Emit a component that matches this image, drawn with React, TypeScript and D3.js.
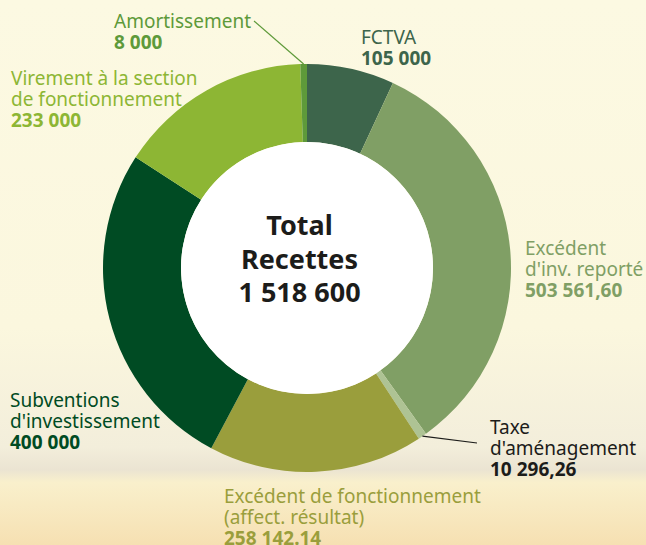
import React from 'react';
import * as d3 from 'd3';

// données (recettes d'investissement)
const categories = [
  'FCTVA',
  "Excédent d'inv. reporté",
  "Taxe d'aménagement",
  'Excédent de fonctionnement (affect. résultat)',
  "Subventions d'investissement",
  'Virement à la section de fonctionnement',
  'Amortissement',
];
const values = [105000, 503561.6, 10296.26, 258142.14, 400000, 233000, 8000];
const valueLabels = ['105 000', '503 561,60', '10 296,26', '258 142.14', '400 000', '233 000', '8 000'];
const labelLines = [
  ['FCTVA'],
  ['Excédent', "d'inv. reporté"],
  ['Taxe', "d'aménagement"],
  ['Excédent de fonctionnement', '(affect. résultat)'],
  ['Subventions', "d'investissement"],
  ['Virement à la section', 'de fonctionnement'],
  ['Amortissement'],
];
const sliceColors = ['#3d654b', '#809f65', '#aec394', '#9a9e3c', '#004b23', '#8db634', '#5e9a3a'];
const textColors = ['#3d654b', '#809f65', '#1c1c1a', '#9a9e3c', '#004b23', '#8db634', '#5e9a3a'];
const totalLines = ['Total', 'Recettes', '1 518 600'];

// mise en page des étiquettes (x, ligne de base de la 1re ligne)
const labelPos: [number, number][] = [
  [361, 44],
  [525, 255],
  [490, 434],
  [224, 503],
  [10, 407],
  [11, 85],
  [114, 28],
];
// fin des traits de rappel (pour les petites parts)
const leaderEnd: Record<number, [number, number]> = {
  2: [477, 443],
  6: [254, 21],
};

const W = 646;
const H = 545;
const cx = 307;
const cy = 268;
const rOuter = 204;
const rInner = 126;
const font = "'Noto Sans', sans-serif";

export default function App() {
  const pie = d3.pie<number>().sort(null).value(d => d).startAngle(0).endAngle(2 * Math.PI);
  const arcs = pie(values);
  const arc = d3.arc<d3.PieArcDatum<number>>().innerRadius(rInner).outerRadius(rOuter);

  return (
    <svg width={W} height={H} style={{ position: 'absolute', left: 0, top: 0 }} fontFamily={font}>
      <defs>
        <linearGradient id="bg" x1="0" y1="0" x2="0" y2="1">
          <stop offset="0" stopColor="#fcf9e2" />
          <stop offset="0.6" stopColor="#fbf7de" />
          <stop offset="0.82" stopColor="#f3eedb" />
          <stop offset="0.862" stopColor="#ebe4d2" />
          <stop offset="0.885" stopColor="#f9f0cc" />
          <stop offset="1" stopColor="#f6e0b2" />
        </linearGradient>
      </defs>
      <rect x={0} y={0} width={W} height={H} fill="url(#bg)" />

      <g transform={`translate(${cx},${cy})`}>
        {arcs.map((a, i) => (
          <path key={categories[i]} d={arc(a) || ''} fill={sliceColors[i]} />
        ))}
        <circle r={rInner} fill="#ffffff" />
      </g>

      {arcs.map((a, i) => {
        const end = leaderEnd[i];
        if (!end) return null;
        const mid = (a.startAngle + a.endAngle) / 2;
        const x0 = cx + rOuter * Math.sin(mid);
        const y0 = cy - rOuter * Math.cos(mid);
        return (
          <line key={'l' + i} x1={x0} y1={y0} x2={end[0]} y2={end[1]}
            stroke={i === 2 ? '#1c1c1a' : '#5e9a3a'} strokeWidth={1.2} />
        );
      })}

      {categories.map((c, i) => {
        const [x, y] = labelPos[i];
        const lines = labelLines[i];
        return (
          <text key={'t' + c} x={x} y={y} fill={textColors[i]} fontSize={19}>
            {lines.map((l, j) => (
              <tspan key={j} x={x} y={y + j * 21}>{l}</tspan>
            ))}
            <tspan x={x} y={y + lines.length * 21} fontWeight={700}>{valueLabels[i]}</tspan>
          </text>
        );
      })}

      <text textAnchor="middle" fill="#1c1c1a" fontWeight={700} fontSize={27}>
        {totalLines.map((l, j) => (
          <tspan key={j} x={299.5} y={235 + j * 33.5}>{l}</tspan>
        ))}
      </text>
    </svg>
  );
}
